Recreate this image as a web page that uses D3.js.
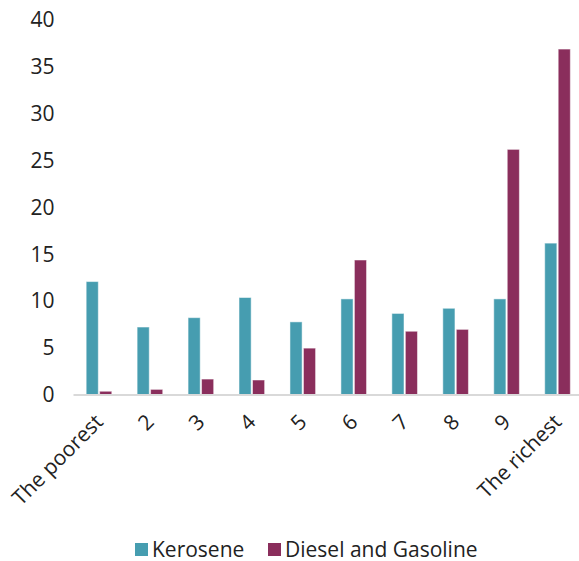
<!DOCTYPE html>
<html>
<head>
<meta charset="utf-8">
<script src="https://cdn.jsdelivr.net/npm/d3@7"></script>
<style>
  html, body { margin: 0; padding: 0; background: #fff; }
  svg { display: block; }
  text { font-family: "Open Sans", sans-serif; fill: #222; }
</style>
</head>
<body>
<svg id="chart" width="579" height="561"></svg>
<script>
// Share of spending by income decile
const categories = ["The poorest", "2", "3", "4", "5", "6", "7", "8", "9", "The richest"];
const kerosene = [12.1, 7.25, 8.25, 10.4, 7.8, 10.25, 8.7, 9.25, 10.25, 16.2];
const dieselGasoline = [0.4, 0.6, 1.7, 1.6, 5.0, 14.4, 6.8, 7.0, 26.2, 36.9];
const seriesNames = ["Kerosene", "Diesel and Gasoline"];
const seriesColors = ["#469DB0", "#8A2E5C"];
const yTicks = [0, 5, 10, 15, 20, 25, 30, 35, 40];

const fontSize = "21px";
const svg = d3.select("#chart");
const plot = { left: 73.5, right: 583, top: 20, bottom: 395 };

const x = d3.scaleBand().domain(categories).range([plot.left, plot.right]).paddingInner(0).paddingOuter(0);
const xs = d3.scaleBand().domain(seriesNames).range([0, x.bandwidth()]).paddingInner(0.1).paddingOuter(0.94);
const y = d3.scaleLinear().domain([0, 40]).range([plot.bottom, plot.top]);

const rows = categories.map((c, i) => ({ cat: c, values: [kerosene[i], dieselGasoline[i]] }));

// bars
const groups = svg.append("g").selectAll("g").data(rows).join("g")
  .attr("transform", d => `translate(${x(d.cat)},0)`);
groups.selectAll("rect").data(d => d.values.map((v, j) => ({ v, s: seriesNames[j], j })))
  .join("rect")
  .attr("x", d => xs(d.s))
  .attr("width", xs.bandwidth())
  .attr("y", d => y(d.v))
  .attr("height", d => y(0) - y(d.v))
  .attr("fill", d => seriesColors[d.j])
  .attr("stroke", "#fff")
  .attr("stroke-opacity", 0.5)
  .attr("stroke-width", 1);

// baseline
svg.append("line")
  .attr("x1", plot.left).attr("x2", plot.right)
  .attr("y1", y(0)).attr("y2", y(0))
  .attr("stroke", "#d9d9d9").attr("stroke-width", 2);

// y axis labels
const yAxis = svg.append("g").attr("transform", `translate(${plot.left},0)`)
  .call(d3.axisLeft(y).tickValues(yTicks).tickSize(0).tickPadding(19));
yAxis.select(".domain").remove();
yAxis.selectAll("text").style("font-family", "'Open Sans', sans-serif").style("font-size", fontSize).attr("fill", "#222");

// x axis labels, rotated
svg.append("g").selectAll("text").data(categories).join("text")
  .attr("transform", d => `translate(${x(d) + x.bandwidth() / 2},418) rotate(-45)`)
  .attr("text-anchor", "end")
  .attr("dy", "0.35em")
  .style("font-size", fontSize)
  .text(d => d);

// legend
const legendItems = [
  { name: seriesNames[0], color: seriesColors[0], x: 135 },
  { name: seriesNames[1], color: seriesColors[1], x: 268 }
];
const lg = svg.append("g").selectAll("g").data(legendItems).join("g")
  .attr("transform", d => `translate(${d.x},543)`);
lg.append("rect").attr("width", 13).attr("height", 13).attr("fill", d => d.color);
lg.append("text").attr("x", 17).attr("y", 6.5).attr("dy", "0.35em")
  .style("font-size", fontSize).text(d => d.name);
</script>
</body>
</html>
